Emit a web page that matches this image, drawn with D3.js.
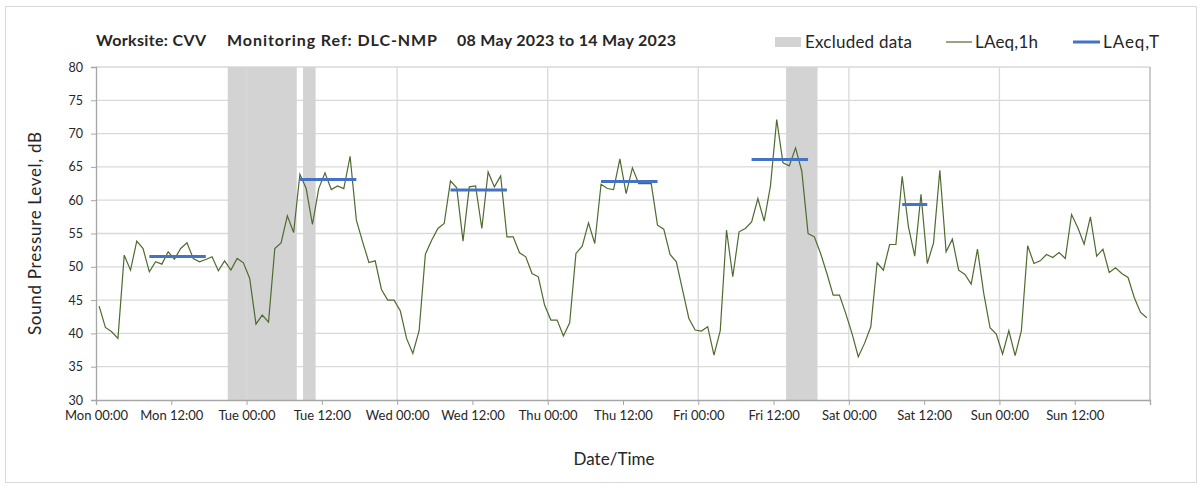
<!DOCTYPE html>
<html>
<head>
<meta charset="utf-8">
<script src="https://cdn.jsdelivr.net/npm/d3@7"></script>
<style>
  body { margin: 0; background: #fff; }
  text { font-family: Lato, "Open Sans", sans-serif; fill: #262626; }
</style>
</head>
<body>
<script>
// hourly LAeq,1h values, Mon 00:00 .. Sun 23:00 (plotted at mid-hour)
var laeq1h = [
  44.1, 40.9, 40.25, 39.25, 51.75, 49.5, 53.85, 52.75, 49.25, 50.75, 50.4, 52.25,
  51.15, 52.75, 53.6, 51.25, 50.75, 51.1, 51.5, 49.4, 50.9, 49.5, 51.25, 50.6,
  48.25, 41.4, 42.75, 41.7, 52.75, 53.6, 57.65, 55.15, 63.9, 61.75, 56.35, 61.75,
  64.1, 61.6, 62.15, 61.75, 66.6, 57, 53.75, 50.65, 50.9, 46.6, 45, 45,
  43.4, 39.25, 37, 40.4, 51.9, 54, 55.75, 56.5, 62.9, 61.85, 53.85, 62,
  62.15, 55.75, 64.25, 62, 63.65, 54.5, 54.5, 52.1, 51.5, 49, 48.5, 44.25,
  42, 42, 39.6, 41.6, 52, 53.1, 56.6, 53.5, 62.4, 61.75, 61.6, 66.2,
  61, 64.85, 62.5, 62.5, 62.5, 56.25, 55.65, 51.85, 50.75, 46.5, 42.25, 40.5,
  40.35, 41, 36.75, 40.4, 55.5, 48.5, 55.25, 55.75, 56.75, 60.25, 56.85, 62.1,
  72.1, 65.6, 65.15, 67.85, 64.35, 55, 54.5, 52, 49, 45.75, 45.75, 43,
  40, 36.5, 38.5, 41, 50.6, 49.5, 53.35, 53.35, 63.6, 56, 51.6, 60.9,
  50.5, 53.6, 64.5, 52.25, 54.15, 49.5, 48.85, 47.4, 52.65, 46, 40.85, 39.9,
  36.9, 40.4, 36.65, 40.4, 53.15, 50.5, 50.9, 51.85, 51.4, 52.15, 51.25, 57.85,
  55.85, 53.4, 57.5, 51.6, 52.65, 49.15, 49.85, 49, 48.4, 45.35, 43.15, 42.35
];

// LAeq,T daytime periods (hours from Mon 00:00)
var laeqTStart = [8.5, 32.5, 56.5, 80.5, 104.5, 128.5];
var laeqTEnd = [17.5, 41.5, 65.5, 89.5, 113.5, 132.5];
var laeqTValue = [51.55, 63.1, 61.55, 62.8, 66.1, 59.35];

// excluded data periods (hours from Mon 00:00)
var excludedStart = [21, 33, 110];
var excludedEnd = [32, 35, 115];

var days = ["Mon", "Tue", "Wed", "Thu", "Fri", "Sat", "Sun"];
var yTicks = [30, 35, 40, 45, 50, 55, 60, 65, 70, 75, 80];

var svg = d3.select("body").append("svg")
  .attr("width", 1203)
  .attr("height", 488);

svg.append("rect")
  .attr("x", 5.5).attr("y", 6.5)
  .attr("width", 1191).attr("height", 476)
  .attr("fill", "none")
  .attr("stroke", "#d9d9d9");

var margin = { top: 67, left: 96, right: 53, bottom: 88 },
  width = 1203 - margin.left - margin.right,
  height = 488 - margin.top - margin.bottom,
  g = svg.append("g").attr("transform", "translate(" + margin.left + "," + margin.top + ")");

var x = d3.scaleLinear().domain([0, 168]).range([0, width]);
var y = d3.scaleLinear().domain([30, 80]).range([height, 0]);

// horizontal gridlines
g.selectAll(".hgrid")
  .data(yTicks.slice(1))
  .enter().append("line")
  .attr("x1", 0).attr("x2", width)
  .attr("y1", function(d) { return y(d); })
  .attr("y2", function(d) { return y(d); })
  .attr("stroke", "#d9d9d9")
  .attr("stroke-width", 1.3);

// excluded bands
g.selectAll(".excl")
  .data(excludedStart)
  .enter().append("rect")
  .attr("x", function(d) { return x(d); })
  .attr("y", 0)
  .attr("width", function(d, i) { return x(excludedEnd[i]) - x(d); })
  .attr("height", height)
  .attr("fill", "#d3d3d3");

// vertical day gridlines
g.selectAll(".vgrid")
  .data(d3.range(24, 169, 24))
  .enter().append("line")
  .attr("x1", function(d) { return x(d); })
  .attr("x2", function(d) { return x(d); })
  .attr("y1", 0).attr("y2", height)
  .attr("stroke", function(d) { return d === 168 ? "#b0b0b0" : "#d9d9d9"; })
  .attr("stroke-width", 1.3);

// axes
var xTickVals = d3.range(0, 169, 12);
var xAxis = d3.axisBottom(x)
  .tickValues(xTickVals)
  .tickSize(5)
  .tickPadding(6)
  .tickFormat(function(d) {
    if (d >= 168) return "";
    return days[Math.floor(d / 24)] + (d % 24 === 0 ? " 00:00" : " 12:00");
  });
var gx = g.append("g")
  .attr("transform", "translate(0," + height + ")")
  .call(xAxis);
gx.select(".domain").attr("stroke", "#a6a6a6").attr("stroke-width", 1.3);
gx.selectAll(".tick line").attr("stroke", "#a6a6a6");
gx.selectAll("text").style("font-size", "13px").attr("fill", "#404040");

var yAxis = d3.axisLeft(y)
  .tickValues(yTicks)
  .tickSize(5)
  .tickPadding(8);
var gy = g.append("g").call(yAxis);
gy.select(".domain").attr("stroke", "#a6a6a6").attr("stroke-width", 1.3);
gy.selectAll(".tick line").attr("stroke", "#a6a6a6");
gy.selectAll("text").style("font-size", "12.5px").attr("fill", "#404040");

// LAeq,1h line
var line = d3.line()
  .x(function(d, i) { return x(i + 0.5); })
  .y(function(d) { return y(d); });

g.append("path")
  .datum(laeq1h)
  .attr("fill", "none")
  .attr("stroke", "#4f6b2f")
  .attr("stroke-width", 1.2)
  .attr("d", line);

// LAeq,T segments
g.selectAll(".laeqT")
  .data(laeqTValue)
  .enter().append("line")
  .attr("x1", function(d, i) { return x(laeqTStart[i]); })
  .attr("x2", function(d, i) { return x(laeqTEnd[i]); })
  .attr("y1", function(d) { return y(d); })
  .attr("y2", function(d) { return y(d); })
  .attr("stroke", "#4472c4")
  .attr("stroke-width", 3);

// axis labels
svg.append("text")
  .attr("transform", "translate(41," + (margin.top + height / 2) + ") rotate(-90)")
  .attr("text-anchor", "middle")
  .attr("textLength", 203)
  .style("font-size", "17px")
  .text("Sound Pressure Level, dB");

svg.append("text")
  .attr("x", 614).attr("y", 465)
  .attr("text-anchor", "middle")
  .attr("textLength", 81)
  .style("font-size", "17px")
  .text("Date/Time");

// title
var title = svg.append("g").style("font-size", "16px").style("font-weight", "bold");
title.append("text").attr("x", 96).attr("y", 46).attr("textLength", 110).text("Worksite: CVV");
title.append("text").attr("x", 227).attr("y", 46).attr("textLength", 210).text("Monitoring Ref: DLC-NMP");
title.append("text").attr("x", 457).attr("y", 46).attr("textLength", 219).text("08 May 2023 to 14 May 2023");

// legend
var legend = svg.append("g").style("font-size", "17px");
legend.append("rect")
  .attr("x", 775).attr("y", 37).attr("width", 26).attr("height", 10)
  .attr("fill", "#d3d3d3");
legend.append("text").attr("x", 805).attr("y", 48).attr("textLength", 107).text("Excluded data");
legend.append("line")
  .attr("x1", 946).attr("x2", 972).attr("y1", 42).attr("y2", 42)
  .attr("stroke", "#4f6b2f").attr("stroke-width", 1.2);
legend.append("text").attr("x", 975).attr("y", 48).attr("textLength", 63).text("LAeq,1h");
legend.append("line")
  .attr("x1", 1073).attr("x2", 1100).attr("y1", 42).attr("y2", 42)
  .attr("stroke", "#4472c4").attr("stroke-width", 3);
legend.append("text").attr("x", 1103).attr("y", 48).attr("textLength", 56).text("LAeq,T");
</script>
</body>
</html>
